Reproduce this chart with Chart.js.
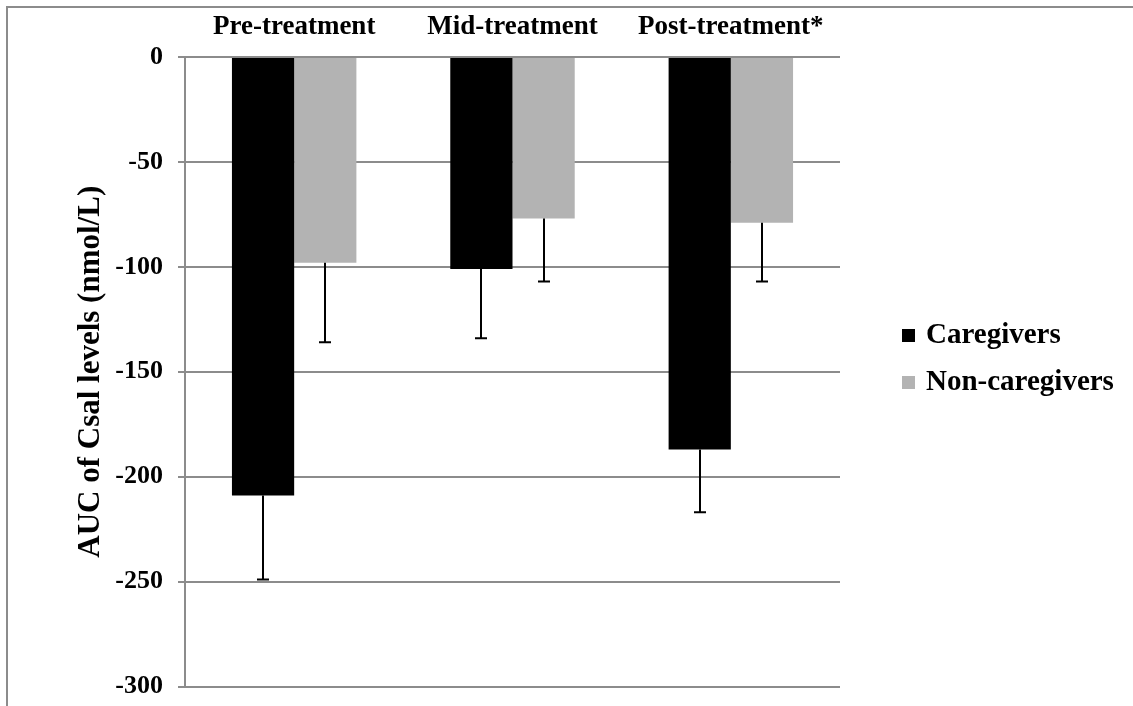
<!DOCTYPE html>
<html>
<head>
<meta charset="utf-8">
<title>AUC of Csal levels by treatment phase</title>
<script src="https://cdn.jsdelivr.net/npm/chart.js@4.4.1/dist/chart.umd.min.js"></script>
<style>
  html, body { margin: 0; padding: 0; background: #ffffff; }
  #wrap { position: relative; width: 1133px; height: 706px; overflow: hidden; }
  #frame {
    position: absolute; left: 6px; top: 6px; width: 1140px; height: 720px;
    border-left: 2px solid #8c8c8c; border-top: 2px solid #8c8c8c;
    pointer-events: none;
  }
  canvas { position: absolute; left: 0; top: 0; }
</style>
</head>
<body>
<div id="wrap">
  <canvas id="chart" width="1133" height="706"></canvas>
  <div id="frame"></div>
</div>
<script>
// Treatment phases shown along the top axis
const phases = ['Pre-treatment', 'Mid-treatment', 'Post-treatment*'];

// Mean AUC of salivary cortisol (nmol/L) per group
const caregivers = [-209, -101, -187];
const nonCaregivers = [-98, -77, -79];

// Error bar lengths (drawn downward from each bar end)
const caregiversErr = [40, 33, 30];
const nonCaregiversErr = [38, 30, 28];

// Y-axis tick settings
const yMin = -300;
const yMax = 0;
const yStep = 50;

const serif = "'Liberation Serif', 'Times New Roman', serif";
const gridGray = '#8c8c8c';

// Draws one-sided error bars below each bar, using the value scale
const errorBars = {
  id: 'errorBars',
  afterDatasetsDraw(chart) {
    const ctx = chart.ctx;
    const yScale = chart.scales.y;
    chart.data.datasets.forEach((ds, di) => {
      const meta = chart.getDatasetMeta(di);
      if (meta.hidden || !ds.errors) return;
      meta.data.forEach((bar, i) => {
        const v = ds.data[i];
        const e = ds.errors[i];
        const x = Math.round(bar.x);
        const y0 = yScale.getPixelForValue(v);
        const y1 = yScale.getPixelForValue(v - e);
        ctx.save();
        ctx.strokeStyle = '#000000';
        ctx.lineWidth = 2;
        ctx.beginPath();
        ctx.moveTo(x, y0);
        ctx.lineTo(x, y1);
        ctx.moveTo(x - 6, y1);
        ctx.lineTo(x + 6, y1);
        ctx.stroke();
        ctx.restore();
      });
    });
  }
};

// Legend to the right of the plot, one row per dataset
const sideLegend = {
  id: 'sideLegend',
  afterDraw(chart) {
    const ctx = chart.ctx;
    const area = chart.chartArea;
    const boxX = area.right + 62;
    const box = 13;
    const rowGap = 47;
    const firstRow = (area.top + area.bottom) / 2 - 36;
    ctx.save();
    ctx.font = "bold 29px " + serif;
    ctx.textBaseline = 'middle';
    ctx.textAlign = 'left';
    chart.data.datasets.forEach((ds, i) => {
      const yc = firstRow + i * rowGap;
      ctx.fillStyle = ds.backgroundColor;
      ctx.fillRect(boxX, Math.round(yc - box / 2), box, box);
      ctx.fillStyle = '#000000';
      ctx.fillText(ds.label, boxX + box + 11, yc);
    });
    ctx.restore();
  }
};

new Chart(document.getElementById('chart'), {
  type: 'bar',
  data: {
    labels: phases,
    datasets: [
      {
        label: 'Caregivers',
        data: caregivers,
        errors: caregiversErr,
        backgroundColor: '#000000',
        borderWidth: 0
      },
      {
        label: 'Non-caregivers',
        data: nonCaregivers,
        errors: nonCaregiversErr,
        backgroundColor: '#b3b3b3',
        borderWidth: 0
      }
    ]
  },
  options: {
    responsive: false,
    animation: false,
    devicePixelRatio: 1,
    layout: { padding: { top: 0, right: 293, bottom: 19.5, left: 0 } },
    datasets: {
      bar: { categoryPercentage: 0.57, barPercentage: 1.0 }
    },
    plugins: {
      tooltip: { enabled: false },
      legend: { display: false }
    },
    scales: {
      x: {
        position: 'top',
        grid: { display: false, drawTicks: false },
        border: { display: false },
        ticks: {
          color: '#000000',
          padding: 14,
          autoSkip: false,
          maxRotation: 0,
          minRotation: 0,
          font: { family: serif, size: 27, weight: 'bold' }
        },
        afterFit(scale) { scale.height = 57; }
      },
      y: {
        min: yMin,
        max: yMax,
        ticks: {
          stepSize: yStep,
          color: '#000000',
          padding: 15,
          font: { family: serif, size: 26, weight: 'bold' }
        },
        grid: {
          color: gridGray,
          lineWidth: 2,
          tickLength: 7,
          drawTicks: true
        },
        border: { display: true, color: gridGray, width: 2 },
        title: {
          display: true,
          text: 'AUC of Csal levels (nmol/L)',
          color: '#000000',
          padding: { top: 72, bottom: 0 },
          font: { family: serif, size: 31, weight: 'bold' }
        },
        afterFit(scale) {
          scale.width = 185;
          scale.paddingTop = 0;
          scale.paddingBottom = 0;
        }
      }
    }
  },
  plugins: [errorBars, sideLegend]
});
</script>
</body>
</html>
